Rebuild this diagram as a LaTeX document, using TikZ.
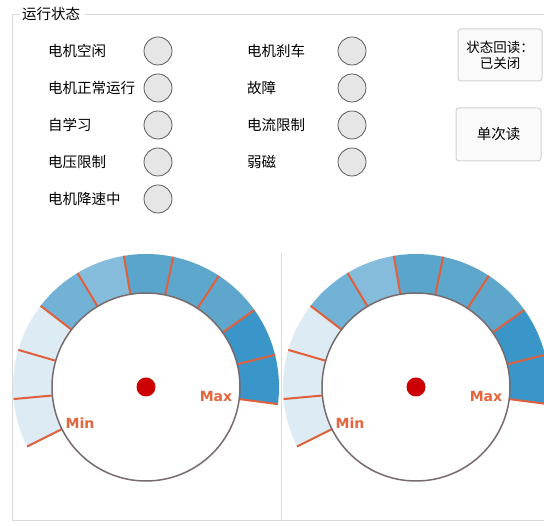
\documentclass[tikz,border=0pt]{standalone}
\usepackage{fontspec}
\setsansfont{DejaVu Sans}
\newfontfamily\cjk{Noto Sans CJK SC}

\definecolor{framegray}{HTML}{DADADA}
\definecolor{lampfill}{HTML}{E6E6E6}
\definecolor{lampline}{HTML}{5A5A5A}
\definecolor{btnfill}{HTML}{FAFAFA}
\definecolor{btnline}{HTML}{D2D2D2}
\definecolor{tickred}{HTML}{E0603C}
\definecolor{textred}{HTML}{E8643C}
\definecolor{dialline}{HTML}{776B6E}
\definecolor{dotred}{HTML}{CC0000}
\definecolor{segA}{HTML}{DCEBF4}
\definecolor{segD}{HTML}{72B2D6}
\definecolor{segE}{HTML}{86BCDB}
\definecolor{segF}{HTML}{5AA5CB}
\definecolor{segG}{HTML}{5DA7CD}
\definecolor{segH}{HTML}{5EA6CC}
\definecolor{segI}{HTML}{3A96C8}

\begin{document}
\begin{tikzpicture}[x=1pt,y=1pt]
\tikzstyle{frame}=[draw=framegray,line width=1pt]
\tikzstyle{lamp}=[draw=lampline,fill=lampfill,shape=circle,minimum size=28pt,inner sep=0pt,line width=0.8pt]
\tikzstyle{lamptext}=[anchor=west,inner sep=0pt,font=\cjk\fontsize{14.5}{17}\selectfont]
\tikzstyle{button}=[draw=btnline,fill=btnfill,rounded corners=3pt,line width=1pt,align=center]
\tikzstyle{tick}=[draw=tickred,line width=2pt]
\tikzstyle{dial}=[draw=dialline,fill=white,line width=1.5pt]
\tikzstyle{gaugetext}=[text=textred,inner sep=0pt,font=\sffamily\bfseries\fontsize{14}{16}\selectfont]

\useasboundingbox (0,0) rectangle (544,526);
\clip (0,0) rectangle (544,526);
\fill[white] (0,0) rectangle (544,526);

% group box
\draw[frame] (19,511) -- (12,511) -- (12,5) -- (544,5);
\draw[frame] (85,511) -- (544,511);
\node[anchor=west,inner sep=0pt,font=\cjk\fontsize{14.5}{17}\selectfont] (title) at (22,512) {运行状态};
\draw[frame] (281,273) -- (281,6);

% lamps, left column
\path (158,475) node[lamp](idle){} (158,438) node[lamp](run){} (158,401) node[lamp](learn){}
      (158,364) node[lamp](vlimit){} (158,327) node[lamp](slow){};
\node[lamptext] (idletext) at (48,475) {电机空闲};
\node[lamptext] (runtext) at (48,438) {电机正常运行};
\node[lamptext] (learntext) at (48,401) {自学习};
\node[lamptext] (vlimittext) at (48,364) {电压限制};
\node[lamptext] (slowtext) at (48,327) {电机降速中};

% lamps, right column
\path (352,475) node[lamp](brake){} (352,438) node[lamp](fault){} (352,401) node[lamp](ilimit){}
      (352,364) node[lamp](weak){};
\node[lamptext] (braketext) at (247,475) {电机刹车};
\node[lamptext] (faulttext) at (247,438) {故障};
\node[lamptext] (ilimittext) at (247,401) {电流限制};
\node[lamptext] (weaktext) at (247,364) {弱磁};

% buttons
\node[button,minimum width=84pt,minimum height=52pt,font=\cjk\fontsize{13.5}{16}\selectfont] (readback) at (500,471) {状态回读：\\已关闭};
\node[button,minimum width=85pt,minimum height=53pt,font=\cjk\fontsize{14.5}{17}\selectfont] (single) at (498.5,391.5) {单次读};

% left gauge
\begin{scope}[shift={(146,139)}]
\foreach \c [count=\i] in {segA,segA,segA,segD,segE,segF,segG,segH,segI,segI} {
  \pgfmathsetmacro\a{206.6-21.4*(\i-1)}
  \pgfmathsetmacro\b{206.6-21.4*\i}
  \fill[\c] (\a:133) arc[start angle=\a,end angle=\b,radius=133] -- (\b:94) arc[start angle=\b,end angle=\a,radius=94] -- cycle;
}
\foreach \i in {0,...,10} \draw[tick] ({206.6-21.4*\i}:92) -- ({206.6-21.4*\i}:133);
\draw[dial] (0,0) circle (94);
\fill[dotred] (0,0) circle (9.5);
\node[gaugetext] (min1) at (-66,-36) {Min};
\node[gaugetext] (max1) at (70,-10) {Max};
\end{scope}

% right gauge
\begin{scope}[shift={(416,139)}]
\foreach \c [count=\i] in {segA,segA,segA,segD,segE,segF,segG,segH,segI,segI} {
  \pgfmathsetmacro\a{206.6-21.4*(\i-1)}
  \pgfmathsetmacro\b{206.6-21.4*\i}
  \fill[\c] (\a:133) arc[start angle=\a,end angle=\b,radius=133] -- (\b:94) arc[start angle=\b,end angle=\a,radius=94] -- cycle;
}
\foreach \i in {0,...,10} \draw[tick] ({206.6-21.4*\i}:92) -- ({206.6-21.4*\i}:133);
\draw[dial] (0,0) circle (94);
\fill[dotred] (0,0) circle (9.5);
\node[gaugetext] (min2) at (-66,-36) {Min};
\node[gaugetext] (max2) at (70,-10) {Max};
\end{scope}
\end{tikzpicture}
\end{document}
